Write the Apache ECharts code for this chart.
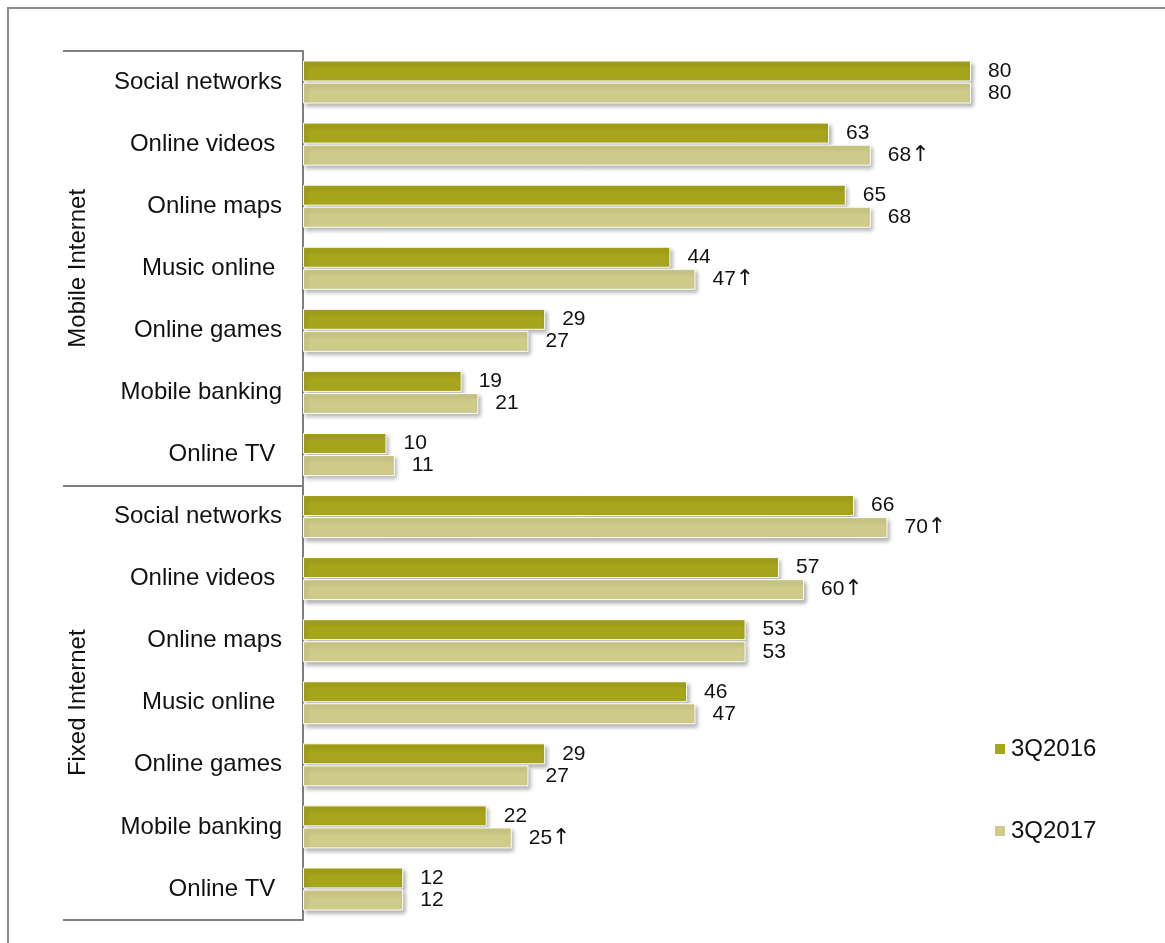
<html>
<meta charset="utf-8">
<head>
<style>
  body { margin: 0; background: #fff; }
  #main { position: absolute; left: 0; top: 0; width: 1165px; height: 943px; }
  #frame { position: absolute; left: 7px; top: 7px; right: 0; bottom: 0;
           border-top: 2px solid #8c8c8c; border-left: 2px solid #8c8c8c; pointer-events: none; }
</style>
</head>
<body>
    <div id="main"></div>
    <div id="frame"></div>
</body>
</html>
<script type="text/javascript" src="https://cdn.jsdelivr.net/npm/echarts@6/dist/echarts.min.js"></script>
<script type="text/javascript">

// rows, top to bottom
var categories = ['Social networks', 'Online videos ', 'Online maps', 'Music online ', 'Online games', 'Mobile banking', 'Online TV ',
                  'Social networks', 'Online videos ', 'Online maps', 'Music online ', 'Online games', 'Mobile banking', 'Online TV '];
var groups = ['Mobile Internet', 'Fixed Internet'];
var seriesNames = ['3Q2016', '3Q2017'];
var values2016 = [80, 63, 65, 44, 29, 19, 10, 66, 57, 53, 46, 29, 22, 12];
var values2017 = [80, 68, 68, 47, 27, 21, 11, 70, 60, 53, 47, 27, 25, 12];
// rows where 3Q2017 carries an up arrow
var up2017 = [false, true, false, true, false, false, false, true, true, false, false, false, true, false];

var font = "'Liberation Sans', Arial, sans-serif";
var lineGray = '#7f7f7f';

function barSeries(name, data, color, arrows) {
    return {
        name: name,
        type: 'bar',
        data: data,
        barWidth: 21,
        barGap: '5%',
        itemStyle: {
            color: color,
            borderColor: '#fff',
            borderWidth: 1,
            shadowColor: 'rgba(0,0,0,0.3)',
            shadowBlur: 4,
            shadowOffsetX: 2,
            shadowOffsetY: 3
        },
        label: {
            show: true,
            position: 'right',
            distance: 17,
            fontSize: 21,
            fontFamily: font,
            color: '#111',
            formatter: function (p) {
                return p.value + (arrows && arrows[p.dataIndex] ? '{up|\u2191}' : '');
            },
            rich: {
                up: { fontSize: 22, fontFamily: "'DejaVu Sans', sans-serif", color: '#111' }
            }
        }
    };
}

var myChart = echarts.init(document.getElementById('main'));
var option = {
    animation: false,
    textStyle: { fontFamily: font },
    grid: { left: 303, top: 51, bottom: 23, right: 27 },
    legend: {
        data: seriesNames,
        orient: 'vertical',
        left: 990,
        top: 732,
        itemGap: 58,
        itemWidth: 10,
        itemHeight: 10,
        icon: 'rect',
        itemStyle: { borderWidth: 0, shadowBlur: 0, shadowOffsetX: 0, shadowOffsetY: 0 },
        textStyle: { fontSize: 24, fontFamily: font, color: '#111', padding: [0, 0, 0, 1] }
    },
    xAxis: {
        type: 'value',
        min: 0,
        max: 100,
        show: false
    },
    yAxis: [{
        type: 'category',
        data: categories,
        inverse: true,
        axisLine: { show: true, lineStyle: { color: lineGray, width: 2 } },
        axisTick: {
            show: true,
            length: 240,
            interval: function (idx) { return idx % 7 === 0; },
            lineStyle: { color: lineGray, width: 2 }
        },
        axisLabel: { interval: 0, margin: 21, fontSize: 24, fontFamily: font, color: '#111' }
    }, {
        type: 'category',
        data: groups,
        inverse: true,
        position: 'left',
        offset: 205,
        axisLine: { show: false },
        axisTick: { show: false },
        axisLabel: { interval: 0, rotate: 90, margin: 8, fontSize: 24, fontFamily: font, color: '#111' }
    }],
    series: [
        barSeries(seriesNames[0], values2016, '#A6A51B', null),
        barSeries(seriesNames[1], values2017, '#CFCC8A', up2017)
    ]
};
myChart.setOption(option);
</script>
